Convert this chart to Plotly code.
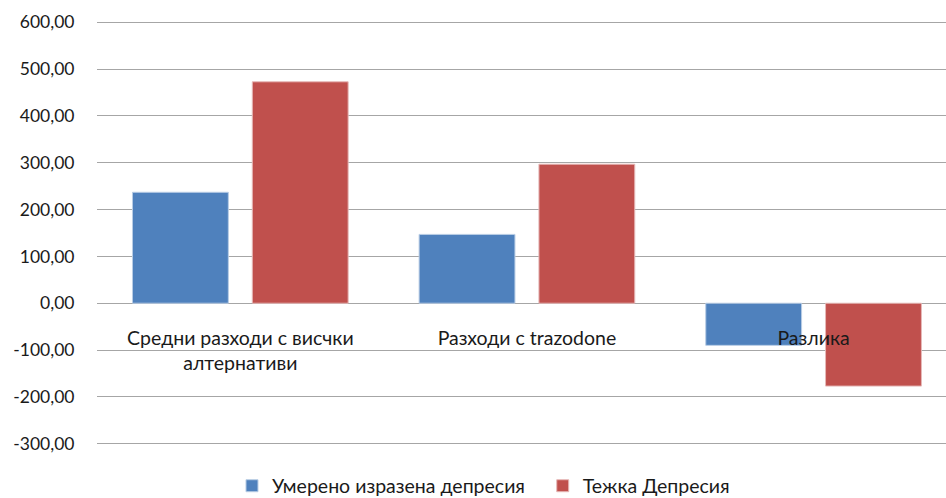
import plotly.graph_objects as go

categories = ["Средни разходи с висчки<br>алтернативи", "Разходи с trazodone", "Разлика"]
series_names = ["Умерено изразена депресия", "Тежка Депресия"]
moderate = [237.0, 147.0, -90.0]
severe = [473.0, 297.0, -177.0]
y_ticks = [-300, -200, -100, 0, 100, 200, 300, 400, 500, 600]
y_tick_labels = [f"{v:.2f}".replace(".", ",") for v in y_ticks]
colors = ["#4F81BD", "#C0504D"]
edge_colors = ["#B9CDE5", "#E6B9B8"]

FONT = "Lato"
FS = 19.5
Y_LO, Y_HI = -305, 605

fig = go.Figure()
legend_ids = ["legend", "legend2"]
for name, vals, col, ec, lg in zip(series_names, [moderate, severe], colors, edge_colors, legend_ids):
    fig.add_trace(go.Bar(x=categories, y=vals, name=name, legend=lg,
                         marker=dict(color=col, line=dict(color=ec, width=1))))

legend_common = dict(orientation="h", xanchor="left", y=-0.094, yanchor="middle",
                     font=dict(size=FS, family=FONT), itemwidth=30,
                     bgcolor="rgba(0,0,0,0)")

fig.update_layout(
    width=946, height=498,
    margin=dict(l=97, r=0, t=20, b=52, autoexpand=False),
    paper_bgcolor="white", plot_bgcolor="white",
    barmode="group", bargap=0.164, bargroupgap=0.2,
    font=dict(family=FONT, size=FS, color="#1a1a1a"),
    showlegend=True,
    legend=dict(x=0.159, **legend_common),
    legend2=dict(x=0.525, **legend_common),
    xaxis=dict(type="category", range=[-0.5, 2.462], anchor="free",
               position=(0 - Y_LO) / (Y_HI - Y_LO),
               automargin=False,
               showline=False, showgrid=False, ticks="outside", ticklen=17,
               tickcolor="rgba(0,0,0,0)", tickfont=dict(size=FS, family=FONT)),
    yaxis=dict(range=[Y_LO, Y_HI], tickmode="array", tickvals=y_ticks, ticktext=y_tick_labels,
               automargin=False,
               showgrid=True, gridcolor="#a6a6a6", gridwidth=1,
               zeroline=True, zerolinecolor="#a6a6a6", zerolinewidth=1,
               showline=False, ticks="outside", ticklen=18,
               tickcolor="rgba(0,0,0,0)", tickfont=dict(size=17.5, family=FONT)),
)

fig.write_html("out.html", config={"displayModeBar": False},
               post_script="document.body.style.margin='0';")
